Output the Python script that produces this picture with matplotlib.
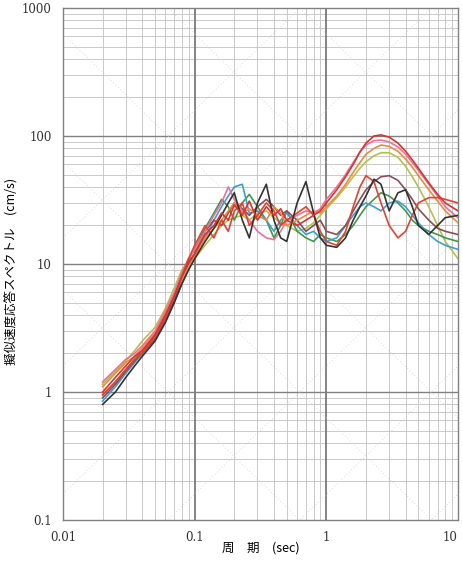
import matplotlib
matplotlib.use("Agg")
import matplotlib.pyplot as plt
import numpy as np

# periods (sec) shared by all spectra
periods = [0.02, 0.025, 0.03, 0.035, 0.04, 0.05, 0.06, 0.07, 0.08, 0.09,
           0.1, 0.12, 0.14, 0.16, 0.18, 0.2, 0.23, 0.26, 0.3, 0.35,
           0.4, 0.45, 0.5, 0.6, 0.7, 0.8, 0.9, 1.0, 1.2, 1.4,
           1.6, 1.8, 2.0, 2.3, 2.6, 3.0, 3.5, 4.0, 4.5, 5.0,
           6.0, 7.0, 8.0, 10.0]

# pseudo-velocity response (cm/s)
sv_red = [1.0, 1.3, 1.6, 1.9, 2.1, 2.8, 4.0, 5.6, 8.0, 10.5,
          12, 17, 20, 25, 22, 29, 24, 31, 22, 28,
          24, 27, 22, 20, 22, 24, 26, 30, 38, 48,
          60, 75, 88, 100, 102, 98, 88, 76, 65, 56,
          43, 35, 30, 26]
sv_pink = [1.2, 1.5, 1.8, 2.0, 2.3, 3.0, 4.3, 6.0, 8.5, 11,
           13, 18, 24, 30, 40, 32, 26, 22, 18, 16,
           15.5, 18, 22, 24, 26, 25, 27, 32, 40, 50,
           62, 75, 85, 92, 93, 90, 82, 72, 62, 54,
           42, 34, 28, 23]
sv_orange = [1.1, 1.4, 1.7, 1.9, 2.2, 2.9, 4.2, 5.8, 7.5, 9.5,
             11.5, 16, 19, 22, 26, 30, 25, 27, 24, 22,
             28, 25, 20, 22, 24, 26, 25, 28, 34, 42,
             52, 62, 72, 80, 85, 83, 76, 66, 57, 49,
             38, 31, 26, 21]
sv_yellowgreen = [1.15, 1.45, 1.75, 2.1, 2.5, 3.2, 4.5, 6.5, 9.0, 10.5,
                  11, 14, 17, 20, 22, 23, 24, 22, 25, 26,
                  23, 21, 20, 18, 19, 21, 24, 27, 33, 40,
                  48, 56, 63, 70, 74, 74, 68, 58, 48, 40,
                  28, 20, 15, 11]
sv_black = [0.8, 1.0, 1.3, 1.6, 1.9, 2.5, 3.5, 5.0, 7.0, 9.0,
            11, 15, 19, 24, 30, 36, 22, 16, 30, 42,
            22, 16, 15, 30, 44, 25, 16, 14, 13.5, 16,
            22, 28, 34, 46, 42, 26, 36, 38, 28, 20,
            17, 20, 23, 24]
sv_red2 = [0.95, 1.2, 1.5, 1.8, 2.0, 2.7, 3.8, 5.5, 8.0, 11,
           14, 20, 16, 22, 18, 26, 30, 20, 24, 30,
           26, 20, 22, 25, 28, 24, 18, 15, 14, 18,
           28, 40, 49, 44, 30, 20, 16, 18, 24, 30,
           33, 33, 32, 30]
sv_brown = [0.9, 1.15, 1.45, 1.75, 2.0, 2.6, 3.7, 5.2, 7.5, 10,
            12, 18, 22, 20, 25, 30, 27, 24, 28, 32,
            28, 24, 26, 22, 18, 20, 22, 18, 17, 20,
            26, 32, 38, 44, 48, 49, 45, 38, 32, 27,
            22, 19, 18, 17]
sv_blue = [0.85, 1.1, 1.4, 1.7, 2.0, 2.6, 3.6, 5.0, 7.0, 9.5,
           12, 16, 22, 28, 34, 40, 42, 25, 26, 22,
           18, 22, 25, 20, 17, 18, 16, 15, 16, 20,
           24, 28, 30, 28, 26, 30, 31, 28, 24, 21,
           17, 15, 14, 13]
sv_green = [0.95, 1.2, 1.5, 1.8, 2.1, 2.8, 4.0, 5.8, 8.5, 11,
            13, 19, 25, 32, 28, 22, 30, 35, 28, 22,
            16, 20, 26, 18, 16, 15, 17, 16, 15, 17,
            20, 24, 28, 32, 36, 34, 30, 26, 22, 20,
            18, 17, 16, 15]

series = [
    (sv_yellowgreen, "#b2c24a"),
    (sv_green, "#3f9a48"),
    (sv_blue, "#3a9fd6"),
    (sv_brown, "#8a4e58"),
    (sv_orange, "#ee8a3a"),
    (sv_pink, "#ee6f9c"),
    (sv_red2, "#e8402e"),
    (sv_black, "#333333"),
    (sv_red, "#e0302a"),
]

x_ticks = [0.01, 0.1, 1, 10]
x_ticklabels = ["0.01", "0.1", "1", "10"]
y_ticks = [0.1, 1, 10, 100, 1000]
y_ticklabels = ["0.1", "1", "10", "100", "1000"]

fig = plt.figure(figsize=(4.62, 5.62), dpi=100)
ax = fig.add_axes([63 / 462, 1 - 520 / 562, 395 / 462, 512 / 562])
ax.set_xscale("log")
ax.set_yscale("log")
ax.set_xlim(0.01, 10)
ax.set_ylim(0.1, 1000)

# log grid: minor and decade lines
for d in [0.01, 0.1, 1]:
    for k in range(2, 10):
        ax.axvline(d * k, color="#c2c2c2", lw=0.6, zorder=0)
for d in [0.1, 1, 10, 100]:
    for k in range(2, 10):
        ax.axhline(d * k, color="#c2c2c2", lw=0.6, zorder=0)
for v in x_ticks[1:-1]:
    ax.axvline(v, color="#707070", lw=1.2, zorder=0)
for v in y_ticks[1:-1]:
    ax.axhline(v, color="#808080", lw=1.0, zorder=0)

# faint tripartite diagonals (displacement / acceleration)
tt = np.array([0.01, 10])
for c in [1e-4, 1e-3, 1e-2, 0.1, 1, 10, 100]:
    ax.plot(tt, c * 2 * np.pi / tt * 100, color="#d0d0d0", lw=0.6, ls=(0, (1, 3)), zorder=0)
    ax.plot(tt, c * tt / (2 * np.pi) * 100, color="#d0d0d0", lw=0.6, ls=(0, (1, 3)), zorder=0)

for vals, col in series:
    ax.plot(periods, vals, color=col, lw=1.2, zorder=3)

ax.set_xticks(x_ticks)
ax.set_xticklabels(x_ticklabels, family="DejaVu Serif", fontsize=8.5)
ax.get_xticklabels()[-1].set_horizontalalignment("right")
ax.set_yticks(y_ticks)
ax.set_yticklabels(y_ticklabels, family="DejaVu Serif", fontsize=8.5)
ax.minorticks_off()
ax.tick_params(length=0, pad=8, colors="#333333")
for s in ax.spines.values():
    s.set_color("#808080")
    s.set_linewidth(1.0)

jp = ["Noto Sans CJK JP", "DejaVu Sans"]
ax.set_xlabel("周　期　(sec)", family=jp, fontsize=9)
ax.xaxis.set_label_coords(0.5, -0.042)
ax.set_ylabel("擬似速度応答スペクトル　(cm/s)", family=jp, fontsize=9)
ax.yaxis.set_label_coords(-0.115, 0.485)

fig.savefig("out.png", dpi=100)
